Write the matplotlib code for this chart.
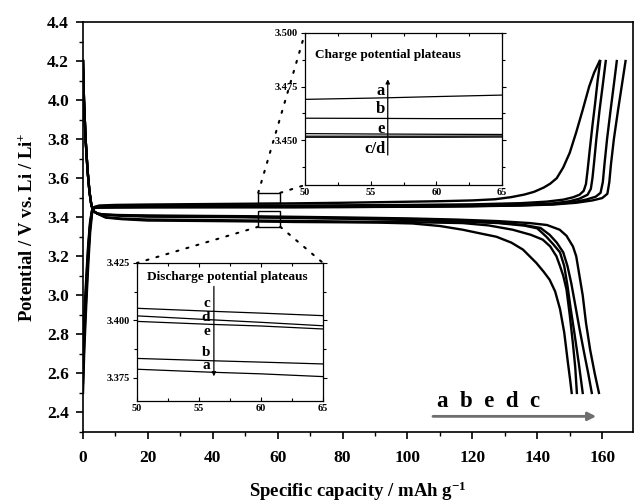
import matplotlib
matplotlib.use("Agg")
import matplotlib.pyplot as plt
from matplotlib.patches import Rectangle, ConnectionPatch
from matplotlib.ticker import MultipleLocator

plt.rcParams['font.family'] = ['Liberation Serif', 'DejaVu Serif']
plt.rcParams['font.weight'] = 'bold'
plt.rcParams['mathtext.fontset'] = 'custom'
plt.rcParams['mathtext.rm'] = 'Liberation Serif:bold'
plt.rcParams['mathtext.it'] = 'Liberation Serif:bold'
plt.rcParams['mathtext.bf'] = 'Liberation Serif:bold'

# ---- charge curves (capacity mAh/g, potential V) ----
start_x = [0, 0.4, 1, 1.6, 2.2, 2.8, 3.5, 5, 10, 20, 35]

chg_x_a = start_x + [50, 56, 60, 65, 80, 95, 110, 120, 127, 132, 136, 139, 142, 144, 146, 148, 150, 152, 154, 156, 157.5, 159.2]
chg_v_a = [2.5, 2.72, 2.95, 3.15, 3.32, 3.42, 3.452, 3.46, 3.463, 3.465, 3.467,
           3.469, 3.4697, 3.4703, 3.471, 3.474, 3.478, 3.482, 3.486, 3.492, 3.503, 3.516, 3.53, 3.552, 3.572, 3.60, 3.655, 3.73, 3.835, 3.95, 4.07, 4.14, 4.2]

chg_x_b = start_x + [50, 56, 60, 65, 80, 100, 120, 135, 143, 148, 151, 153, 154.3, 155, 155.5, 156.2, 157, 157.8, 158.6, 159.4]
chg_v_b = [2.55, 2.78, 3.0, 3.2, 3.35, 3.43, 3.452, 3.456, 3.458, 3.459, 3.4595,
           3.4602, 3.4601, 3.4600, 3.4600, 3.461, 3.463, 3.466, 3.472, 3.48, 3.49, 3.502, 3.515, 3.535, 3.57, 3.64, 3.75, 3.87, 3.98, 4.1, 4.2]

chg_x_e = start_x + [50, 56, 60, 65, 80, 100, 120, 135, 145, 150, 153, 155.5, 156.5, 157, 157.5, 158.2, 159.2, 160.2, 161.1]
chg_v_e = [2.6, 2.82, 3.03, 3.22, 3.36, 3.43, 3.449, 3.451, 3.452, 3.4525, 3.4528,
           3.4530, 3.4528, 3.4527, 3.4526, 3.4535, 3.455, 3.458, 3.463, 3.471, 3.482, 3.495, 3.515, 3.545, 3.60, 3.68, 3.80, 3.95, 4.08, 4.2]

chg_x_d = start_x + [50, 56, 60, 65, 80, 100, 120, 135, 145, 151, 155, 158, 159.5, 160.2, 160.7, 161.5, 162.6, 163.6, 164.5]
chg_v_d = [2.65, 2.86, 3.06, 3.24, 3.37, 3.435, 3.448, 3.450, 3.451, 3.4515, 3.4517,
           3.4518, 3.4518, 3.4518, 3.4519, 3.4525, 3.454, 3.457, 3.461, 3.467, 3.477, 3.49, 3.505, 3.525, 3.58, 3.67, 3.80, 3.95, 4.08, 4.2]

chg_x_c = start_x + [50, 56, 60, 65, 80, 100, 120, 135, 145, 152, 157, 160, 161.6, 162.2, 162.7, 163.6, 164.9, 166.1, 167.2]
chg_v_c = [2.7, 2.9, 3.09, 3.26, 3.38, 3.437, 3.447, 3.449, 3.450, 3.451, 3.4512,
           3.4513, 3.4513, 3.4513, 3.4514, 3.452, 3.4535, 3.456, 3.46, 3.465, 3.474, 3.486, 3.498, 3.52, 3.58, 3.67, 3.80, 3.95, 4.08, 4.2]

# ---- discharge curves ----
dstart_x = [0, 0.3, 0.8, 1.4, 2.0, 2.6, 3.3, 4.5, 7, 12]
dstart_v = [4.2, 4.0, 3.8, 3.64, 3.53, 3.46, 3.43, 3.418, 3.413, 3.411]

dis_x_c = dstart_x + [20, 35, 50, 56, 60, 65, 80, 100, 115, 128, 137.7, 143, 146.9, 149, 151, 152, 153, 154, 155, 156.3, 157.7, 159]
dis_v_c = dstart_v + [3.409, 3.407, 3.4053, 3.4040, 3.4032, 3.4021, 3.399, 3.394, 3.388, 3.38, 3.37, 3.36, 3.336, 3.305, 3.25, 3.2, 3.1, 3.0, 2.86, 2.72, 2.6, 2.5]

dis_x_d = dstart_x + [20, 35, 50, 56, 60, 65, 80, 100, 115, 128, 136, 141, 143.8, 146, 148, 149.3, 150.5, 151.7, 153, 154.5, 155.7, 156.8]
dis_v_d = dstart_v[:-1] + [3.409, 3.406, 3.404, 3.402, 3.4003, 3.3992, 3.3977, 3.394, 3.388, 3.381, 3.372, 3.36, 3.345, 3.31, 3.27, 3.22, 3.15, 3.06, 2.95, 2.83, 2.7, 2.6, 2.5]

dis_x_e = dstart_x + [20, 35, 50, 56, 60, 65, 80, 100, 115, 128, 136, 140, 142.8, 145, 147, 148.3, 149.3, 150.3, 151.5, 152.8, 154]
dis_v_e = dstart_v[:-1] + [3.407, 3.403, 3.4015, 3.3996, 3.3983, 3.3976, 3.3963, 3.393, 3.386, 3.379, 3.37, 3.357, 3.343, 3.30, 3.26, 3.22, 3.15, 3.05, 2.93, 2.8, 2.65, 2.5]

dis_x_b = dstart_x + [20, 35, 50, 56, 60, 65, 80, 100, 117, 125, 132.4, 138, 141.7, 144, 145.9, 147, 148, 149, 150, 151, 151.7, 152.2]
dis_v_b = dstart_v[:-2] + [3.40, 3.393, 3.388, 3.386, 3.3835, 3.3825, 3.3819, 3.3811, 3.378, 3.375, 3.37, 3.358, 3.336, 3.31, 3.285, 3.25, 3.20, 3.15, 3.10, 3.03, 2.9, 2.75, 2.63, 2.5]

dis_x_a = dstart_x + [20, 35, 50, 56, 60, 65, 80, 92, 101.5, 110, 117, 123, 127.4, 132, 135.6, 139.7, 142, 143.8, 145.5, 147, 148.3, 149.4, 150.1, 150.6]
dis_v_a = dstart_v[:-2] + [3.398, 3.39, 3.383, 3.381, 3.3788, 3.3775, 3.3768, 3.3756, 3.374, 3.372, 3.368, 3.355, 3.336, 3.315, 3.30, 3.27, 3.234, 3.166, 3.12, 3.08, 3.02, 2.93, 2.81, 2.66, 2.57, 2.5]

curves = [(chg_x_a, chg_v_a), (chg_x_b, chg_v_b), (chg_x_e, chg_v_e), (chg_x_d, chg_v_d), (chg_x_c, chg_v_c),
          (dis_x_a, dis_v_a), (dis_x_b, dis_v_b), (dis_x_e, dis_v_e), (dis_x_d, dis_v_d), (dis_x_c, dis_v_c)]

# inset labels
chg_labels = ['a', 'b', 'e', 'c/d']
chg_label_v = [3.473, 3.4646, 3.455, 3.446]
dis_labels = ['c', 'd', 'e', 'b', 'a']
dis_label_v = [3.4075, 3.4012, 3.3952, 3.3859, 3.3803]

fig = plt.figure(figsize=(6.36, 5.03), dpi=100)
ax = fig.add_axes([0.1305, 0.1412, 0.9953 - 0.1305, 0.9563 - 0.1412])

for x, v in curves:
    ax.plot(x, v, color='black', lw=1.7, solid_joinstyle='round')

ax.set_xlim(0, 169.5)
ax.set_ylim(2.3, 4.4)
ax.xaxis.set_major_locator(MultipleLocator(20))
ax.xaxis.set_minor_locator(MultipleLocator(10))
ax.yaxis.set_major_locator(MultipleLocator(0.2))
ax.yaxis.set_minor_locator(MultipleLocator(0.1))
ax.yaxis.set_major_formatter(matplotlib.ticker.FormatStrFormatter('%.1f'))
ax.tick_params(which='major', direction='out', length=5, width=1.2, labelsize=12.5, pad=5)
ax.tick_params(axis='x', which='major', pad=8)
ax.tick_params(which='minor', direction='out', length=3, width=1.0)
for s in ax.spines.values():
    s.set_linewidth(1.2)
ax.set_xlabel('Specific capacity / mAh g$^{-1}$', fontsize=13.5, fontweight='bold', labelpad=10)
ax.set_ylabel('Potential / V vs. Li / Li$^{+}$', fontsize=13.5, fontweight='bold', labelpad=8)

# order arrow
ax.annotate('', xy=(159, 2.38), xytext=(107, 2.38),
            arrowprops=dict(arrowstyle='-|>', color='#6e6e6e', lw=2, mutation_scale=12))
ax.text(109, 2.456, 'a  b  e  d  c', fontsize=16.5, fontweight='bold', ha='left', va='center')

# zoom boxes
ax.add_patch(Rectangle((54, 3.474), 6.8, 0.051, fill=False, lw=1.0, ec='black'))
ax.add_patch(Rectangle((54, 3.351), 6.8, 0.082, fill=False, lw=1.0, ec='black'))


def style_inset(a):
    a.set_xlim(50, 65)
    a.xaxis.set_major_locator(MultipleLocator(5))
    a.xaxis.set_minor_locator(MultipleLocator(2.5))
    a.yaxis.set_major_formatter(matplotlib.ticker.FormatStrFormatter('%.3f'))
    a.tick_params(which='both', labelsize=7.5, pad=2, width=0.8)
    a.tick_params(axis='y', which='major', direction='out', length=3, right=True)
    a.tick_params(axis='y', which='minor', direction='out', length=2, right=True)
    a.tick_params(axis='x', which='major', direction='in', length=3, top=True)
    a.tick_params(axis='x', which='minor', direction='in', length=2, top=True)
    for s in a.spines.values():
        s.set_linewidth(0.9)


# charge inset
ins1 = fig.add_axes([0.4796, 0.6322, 0.3097, 0.3022])
for x, v in curves[:5]:
    ins1.plot(x, v, color='black', lw=0.9)
style_inset(ins1)
ins1.set_ylim(3.429, 3.500)
ins1.yaxis.set_major_locator(MultipleLocator(0.025))
ins1.yaxis.set_minor_locator(MultipleLocator(0.0125))
ins1.text(0.05, 0.855, 'Charge potential plateaus', transform=ins1.transAxes,
          fontsize=9.5, fontweight='bold', ha='left', va='center')
ins1.annotate('', xy=(56.3, 3.4797), xytext=(56.3, 3.4417),
              arrowprops=dict(arrowstyle='-|>', color='black', lw=0.9, mutation_scale=6))
for lab, v in zip(chg_labels, chg_label_v):
    ins1.text(56.1, v, lab, fontsize=12, fontweight='bold', ha='right', va='center')

# discharge inset
ins2 = fig.add_axes([0.2154, 0.2028, 0.2925, 0.2744])
for x, v in curves[5:]:
    ins2.plot(x, v, color='black', lw=0.9)
style_inset(ins2)
ins2.set_ylim(3.365, 3.425)
ins2.yaxis.set_major_locator(MultipleLocator(0.025))
ins2.yaxis.set_minor_locator(MultipleLocator(0.0125))
ins2.text(0.054, 0.9, 'Discharge potential plateaus', transform=ins2.transAxes,
          fontsize=9.5, fontweight='bold', ha='left', va='center')
ins2.annotate('', xy=(56.2, 3.3745), xytext=(56.2, 3.416),
              arrowprops=dict(arrowstyle='-|>', color='black', lw=0.9, mutation_scale=6))
for lab, v in zip(dis_labels, dis_label_v):
    ins2.text(55.9, v, lab, fontsize=11, fontweight='bold', ha='right', va='center')

# dotted connectors
dot = dict(linestyle=(0, (1, 4)), lw=1.5, color='black')
for xyA, ins, xyB in [((54, 3.525), ins1, (0, 1)), ((60.8, 3.525), ins1, (0, 0)),
                      ((54, 3.351), ins2, (0, 1)), ((60.8, 3.351), ins2, (1, 1))]:
    cp = ConnectionPatch(xyA=xyA, coordsA=ax.transData, xyB=xyB, coordsB=ins.transAxes, **dot)
    fig.add_artist(cp)

fig.savefig('out.png', dpi=100)
